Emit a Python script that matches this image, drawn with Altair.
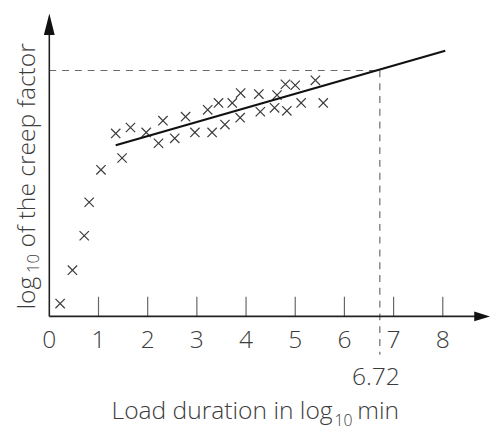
import altair as alt
import pandas as pd

# ---- data ----
point_x = [0.22, 0.47, 0.71, 0.81, 1.05, 1.35, 1.48, 1.65, 1.97, 2.22, 2.31, 2.55,
           2.77, 2.96, 3.22, 3.31, 3.44, 3.57, 3.72, 3.88, 3.89, 4.26, 4.29, 4.58,
           4.63, 4.80, 4.83, 5.00, 5.12, 5.41, 5.57]
point_y = [0.13, 0.47, 0.82, 1.16, 1.49, 1.86, 1.61, 1.92, 1.87, 1.76, 1.99, 1.81,
           2.03, 1.87, 2.10, 1.87, 2.17, 1.95, 2.17, 2.02, 2.27, 2.26, 2.08, 2.12,
           2.25, 2.36, 2.09, 2.35, 2.17, 2.40, 2.17]
fit_x = [1.35, 8.05]
fit_y = [1.74, 2.70]
marker_x = 6.72
marker_y = 2.50
marker_label = "6.72"
tick_positions = [1, 2, 3, 4, 5, 6, 7, 8]
tick_labels = ["0", "1", "2", "3", "4", "5", "6", "7", "8"]
x_domain = [0, 8.96]
y_domain = [0, 3.08]

FONT = "Open Sans"
TXT = "#3c3c3c"
WEIGHT = 300

xs = alt.Scale(domain=x_domain, nice=False, zero=False)
ys = alt.Scale(domain=y_domain, nice=False, zero=False)

X = lambda f: alt.X(f, type="quantitative", scale=xs, axis=None)
Y = lambda f: alt.Y(f, type="quantitative", scale=ys, axis=None)

# axis lines
axes_df = pd.DataFrame({"x": [0, 0], "x2": [8.72, 0], "y": [0, 0], "y2": [0, 2.92]})
axes = alt.Chart(axes_df).mark_rule(color="#222222", strokeWidth=1.6).encode(
    x=X("x"), x2="x2", y=Y("y"), y2="y2")

# arrow heads
arrow_r = alt.Chart(pd.DataFrame({"x": [8.80], "y": [0]})).mark_point(
    shape="M1,0L-1,-0.62L-1,0.62Z", size=256, filled=True, color="#111111", opacity=1
).encode(x=X("x"), y=Y("y"))
arrow_u = alt.Chart(pd.DataFrame({"x": [0], "y": [2.97]})).mark_point(
    shape="M0,-1L0.5,1L-0.5,1Z", size=484, filled=True, color="#111111", opacity=1
).encode(x=X("x"), y=Y("y"))

# inward ticks
ticks_df = pd.DataFrame({"x": tick_positions, "y": [0] * 8, "y2": [0.20] * 8})
ticks = alt.Chart(ticks_df).mark_rule(color="#666666", strokeWidth=1.2).encode(
    x=X("x"), y=Y("y"), y2="y2")

# tick labels
lab_df = pd.DataFrame({"x": list(range(len(tick_labels))), "t": tick_labels})
labels = alt.Chart(lab_df).mark_text(
    font=FONT, fontSize=25, fontWeight=WEIGHT, color=TXT, align="center", baseline="alphabetic"
).encode(x=X("x"), y=alt.value(340), text="t:N")

# dashed guide lines
dash_h = alt.Chart(pd.DataFrame({"x": [0], "x2": [marker_x], "y": [marker_y]})).mark_rule(
    color="#6a6a6a", strokeWidth=1.2, strokeDash=[7, 6]).encode(x=X("x"), x2="x2", y=Y("y"))
dash_v = alt.Chart(pd.DataFrame({"x": [marker_x], "y": [marker_y], "y2": [-0.39]})).mark_rule(
    color="#6a6a6a", strokeWidth=1.2, strokeDash=[7, 6]).encode(x=X("x"), y=Y("y"), y2="y2")

marker_text = alt.Chart(pd.DataFrame({"x": [marker_x], "t": [marker_label]})).mark_text(
    font=FONT, fontSize=25, fontWeight=WEIGHT, color=TXT, align="center",
    baseline="alphabetic", dx=-4
).encode(x=X("x"), y=alt.value(378), text="t:N")

# scatter points
pts = alt.Chart(pd.DataFrame({"x": point_x, "y": point_y})).mark_point(
    shape="M-1,-1L1,1M-1,1L1,-1", size=90, filled=False, color="#3a3a3a",
    strokeWidth=1.2, opacity=1
).encode(x=X("x"), y=Y("y"))

# fitted line
fit = alt.Chart(pd.DataFrame({"x": fit_x, "y": fit_y})).mark_line(
    color="#111111", strokeWidth=2.2).encode(x=X("x"), y=Y("y"))


def text_layer(t, x, y, size, align="left", angle=0):
    kw = dict(font=FONT, fontSize=size, fontWeight=WEIGHT, color=TXT, align=align,
              baseline="alphabetic")
    if angle:
        kw["angle"] = angle
    return alt.Chart(pd.DataFrame({"t": [t]})).mark_text(**kw).encode(
        x=alt.value(x), y=alt.value(y), text="t:N")


xt1 = text_layer("Load duration in log", 288, 412.5, 25, align="right")
xt2 = text_layer("10", 290, 419, 16)
xt3 = text_layer("min", 313, 412.5, 25)

yt1 = text_layer("log", -15, 301, 25, angle=270)
yt2 = text_layer("10", -10, 264, 17, angle=270)
yt3 = text_layer("of the creep factor", -15, 238, 25, angle=270)

chart = alt.layer(
    dash_h, dash_v, ticks, axes, arrow_r, arrow_u, labels, marker_text, pts, fit,
    xt1, xt2, xt3, yt1, yt2, yt3
).properties(
    width=448, height=308,
    autosize=alt.AutoSizeParams(type="none"),
    padding={"left": 42, "top": 2, "right": 0, "bottom": 112},
).configure_view(stroke=None)

chart.save("out.html", embed_options={"renderer": "svg", "actions": False})
